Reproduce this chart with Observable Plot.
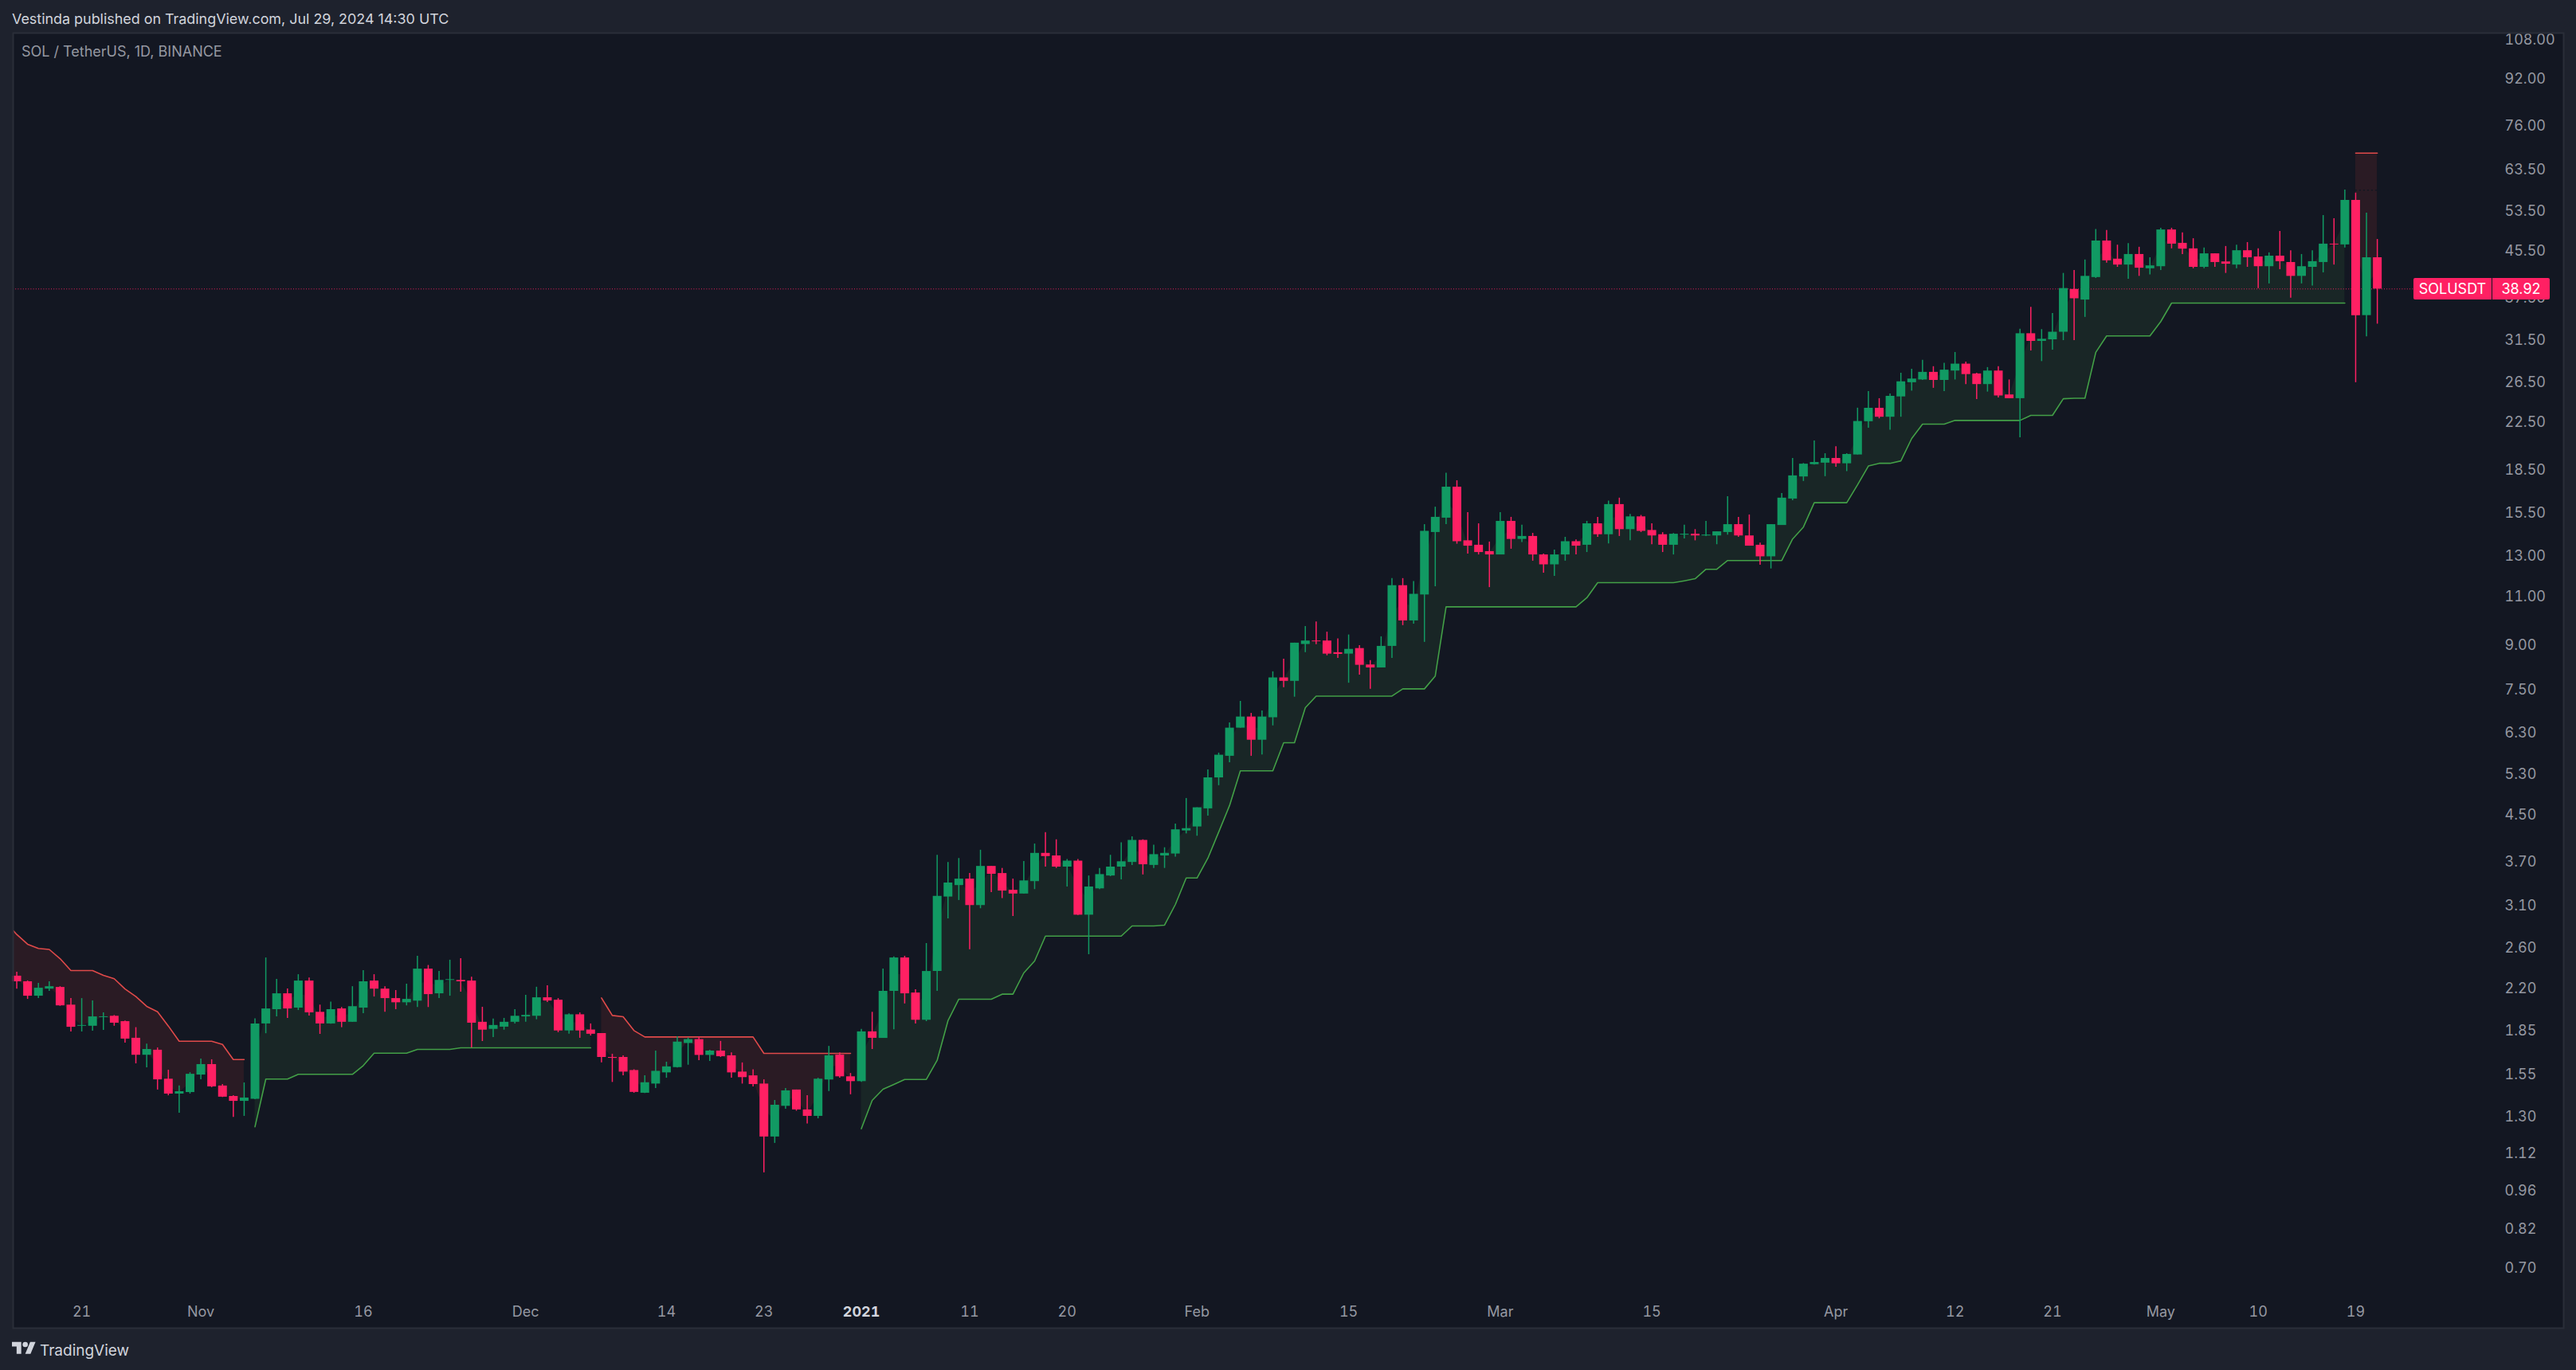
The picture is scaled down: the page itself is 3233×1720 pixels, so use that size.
<!DOCTYPE html>
<html>
<head>
<meta charset="utf-8">
<script src="https://cdn.jsdelivr.net/npm/d3@7"></script>
<script src="https://cdn.jsdelivr.net/npm/@observablehq/plot@0.6"></script>
<style>
html,body{margin:0;padding:0;background:#1e222d;}
#page{position:relative;width:3233px;height:1720px;overflow:hidden;font-family:Inter,sans-serif;}
#chart{position:absolute;left:0;top:0;}
#chart svg{display:block;}
.t{position:absolute;white-space:nowrap;line-height:1;}
.tag{position:absolute;background:#ff2063;color:#fff;font-size:18px;display:flex;align-items:center;justify-content:center;height:27px;top:349px;}
</style>
</head>
<body>
<div id="page">
  <div id="chart"></div>
  <div class="t" style="left:15px;top:15px;font-size:17.9px;color:#d1d4dc;">Vestinda published on TradingView.com, Jul 29, 2024 14:30 UTC</div>
  <div class="t" style="left:27px;top:56px;font-size:18px;color:#9598a1;">SOL / TetherUS, 1D, BINANCE</div>
  <div class="tag" style="left:3029px;width:98px;border-radius:2px 0 0 2px;">SOLUSDT</div>
  <div class="tag" style="left:3128px;width:72px;border-radius:0 2px 2px 0;">38.92</div>
  <svg style="position:absolute;left:15px;top:1681px;" width="30" height="24" viewBox="0 0 36 28"><path fill="#d1d4dc" d="M14 22H7V11H0V4h14v18zM28 22h-8l7.5-18h8L28 22z"/><circle fill="#d1d4dc" cx="20" cy="8" r="4"/></svg>
  <div class="t" style="left:50px;top:1686px;font-size:19px;color:#d1d4dc;">TradingView</div>
</div>
<script>
const opens=[2.32,2.267,2.137,2.20,2.215,2.06,1.889,1.889,1.957,1.968,
1.925,1.798,1.677,1.712,1.52,1.43,1.439,1.546,1.614,1.478,
1.416,1.388,1.40,1.907,2.022,2.158,2.035,2.274,2.00,1.907,
2.028,1.92,2.035,2.274,2.20,2.116,2.08,2.094,2.388,2.158,
2.28,2.28,2.274,1.92,1.865,1.882,1.92,1.963,1.968,2.123,
2.102,1.853,1.98,1.86,1.833,1.662,1.662,1.575,1.435,1.49,
1.56,1.594,1.76,1.788,1.676,1.706,1.673,1.565,1.541,1.49,
1.199,1.36,1.454,1.34,1.305,1.515,1.678,1.535,1.505,1.846,
1.797,2.18,2.50,2.165,1.936,2.365,3.21,3.365,3.455,3.10,
3.64,3.535,3.30,3.25,3.42,3.84,3.80,3.63,3.72,2.98,
3.32,3.50,3.63,3.70,4.05,3.655,3.80,3.83,4.21,4.28,
4.61,5.235,5.72,6.42,6.72,6.11,6.70,7.89,7.78,9.05,
9.18,9.18,8.75,8.70,8.90,8.32,8.22,8.98,11.52,9.97,
11.09,14.33,15.2,17.26,13.85,13.6,13.25,13.07,15.0,13.93,
14.1,13.07,12.55,13.07,13.8,13.6,14.85,14.2,16.07,14.5,
15.28,14.45,14.2,13.6,14.18,14.23,14.13,14.13,14.33,14.8,
14.13,13.6,12.97,14.75,16.44,18.0,18.93,19.05,19.42,19.0,
19.7,22.58,23.86,23.0,25.0,26.5,26.8,27.65,26.75,27.8,
28.6,27.47,26.3,27.8,25.2,24.82,32.4,31.4,31.6,32.6,
38.85,37.2,40.8,47.4,44.0,42.95,44.85,42.3,42.66,49.6,
46.95,45.9,42.55,44.97,43.5,42.95,45.55,44.4,42.66,44.55,
43.4,41.0,42.55,43.4,46.8,46.65,56.0,34.9,44.25];

const highs=[2.357,2.275,2.252,2.267,2.222,2.116,2.116,2.096,1.996,1.974,
1.93,1.878,1.756,1.728,1.577,1.478,1.561,1.651,1.646,1.487,
1.42,1.497,1.947,2.50,2.289,2.202,2.334,2.303,2.06,2.085,
2.04,2.222,2.373,2.334,2.222,2.187,2.245,2.517,2.424,2.365,
2.477,2.493,2.31,2.042,1.945,1.951,2.022,2.144,2.217,2.23,
2.116,1.988,1.995,1.907,1.833,1.684,1.673,1.58,1.541,1.706,
1.63,1.81,1.80,1.81,1.712,1.775,1.694,1.625,1.58,1.516,
1.393,1.463,1.454,1.42,1.526,1.739,1.694,1.556,1.865,2.0,
2.389,2.51,2.517,2.194,2.652,3.81,3.70,3.76,3.535,3.89,
3.64,3.61,3.455,3.713,3.99,4.18,4.06,3.745,3.745,3.50,
3.61,3.81,4.01,4.11,4.06,3.97,3.93,4.33,4.81,4.63,
5.41,5.795,6.56,7.165,6.82,6.89,8.09,8.52,9.10,9.74,
9.93,9.52,9.26,9.41,9.01,8.47,9.34,11.86,11.86,11.72,
14.80,15.9,18.28,17.72,15.55,14.85,13.78,15.55,15.25,14.77,
14.28,13.12,13.33,14.05,13.9,15.0,15.25,16.3,16.5,15.43,
15.37,14.85,14.32,14.27,14.77,14.5,15.0,14.37,16.6,15.25,
15.4,13.72,14.8,16.82,19.42,19.02,20.86,19.8,20.38,19.8,
23.87,25.55,24.82,25.3,27.55,28.0,29.05,28.3,28.7,30.0,
28.85,27.55,28.2,28.3,26.8,33.0,36.1,32.95,35.2,41.5,
42.0,43.85,49.7,49.5,46.6,46.9,46.2,44.25,49.95,49.95,
49.0,47.85,46.05,44.97,46.35,46.6,47.1,45.9,45.15,49.3,
45.55,44.85,45.55,52.62,51.95,58.45,57.7,53.15,47.7];

const lows=[2.20,2.109,2.116,2.18,2.05,1.845,1.845,1.851,1.857,1.889,
1.763,1.619,1.593,1.454,1.42,1.322,1.43,1.517,1.468,1.41,
1.30,1.305,1.397,1.832,1.963,1.95,2.015,1.97,1.827,1.905,
1.878,1.92,1.99,2.13,2.00,2.022,2.054,2.04,2.04,2.116,
2.137,2.172,1.728,1.774,1.803,1.859,1.907,1.92,1.94,2.082,
1.84,1.828,1.798,1.815,1.625,1.50,1.541,1.435,1.433,1.463,
1.526,1.592,1.61,1.64,1.635,1.662,1.526,1.49,1.473,1.035,
1.168,1.344,1.333,1.265,1.292,1.445,1.526,1.426,1.50,1.717,
1.797,1.862,2.07,1.907,1.925,2.18,2.936,3.165,2.585,3.06,
3.27,3.19,2.964,3.25,3.31,3.63,3.61,3.345,2.975,2.534,
3.31,3.49,3.445,3.655,3.515,3.61,3.61,3.78,4.16,4.12,
4.475,5.07,5.57,6.42,5.72,5.75,6.48,7.58,7.29,8.755,
9.04,8.64,8.55,7.72,7.98,7.53,8.22,8.55,9.78,9.84,
9.13,11.47,14.8,13.66,13.12,13.07,11.43,13.07,13.38,13.75,
12.74,12.13,11.97,12.74,13.07,13.2,14.05,13.68,14.1,13.85,
14.33,13.63,13.2,13.07,13.96,13.85,14.1,13.63,14.18,14.05,
13.55,12.53,12.34,14.75,16.33,17.67,18.9,18.02,18.73,18.4,
19.7,21.98,22.85,21.8,23.0,25.6,26.75,25.9,25.55,26.8,
26.3,24.74,25.5,24.9,24.82,21.14,30.2,28.9,30.3,31.5,
31.5,34.65,40.65,43.3,42.55,40.5,41.0,41.25,42.0,45.9,
44.85,42.3,42.3,42.55,41.5,42.3,42.55,39.0,39.75,42.15,
37.5,39.75,39.4,41.6,42.95,46.05,26.5,32.0,33.7];

const closes=[2.267,2.137,2.208,2.222,2.054,1.881,1.895,1.963,1.963,1.913,
1.792,1.677,1.717,1.516,1.43,1.444,1.551,1.614,1.473,1.412,
1.388,1.407,1.907,2.028,2.158,2.028,2.274,1.996,1.907,2.022,
1.92,2.047,2.267,2.20,2.116,2.08,2.109,2.388,2.151,2.28,
2.287,2.267,1.913,1.859,1.895,1.92,1.968,1.975,2.123,2.095,
1.853,1.98,1.853,1.828,1.662,1.656,1.565,1.44,1.498,1.57,
1.599,1.77,1.788,1.676,1.706,1.667,1.56,1.53,1.487,1.199,
1.366,1.449,1.34,1.305,1.52,1.673,1.535,1.505,1.846,1.798,
2.18,2.50,2.158,1.936,2.365,3.22,3.40,3.455,3.10,3.64,
3.525,3.29,3.25,3.43,3.84,3.79,3.63,3.72,2.98,3.345,
3.52,3.63,3.71,4.05,3.665,3.82,3.84,4.23,4.25,4.63,
5.235,5.745,6.42,6.72,6.11,6.72,7.89,7.78,9.10,9.18,
9.15,8.70,8.69,8.87,8.31,8.22,8.98,11.52,9.97,11.12,
14.4,15.25,17.26,13.8,13.55,13.2,13.07,15.0,13.93,14.1,
13.07,12.55,13.07,13.8,13.55,14.85,14.2,16.07,14.5,15.28,
14.4,14.13,13.6,14.23,14.23,14.13,14.18,14.37,14.8,14.13,
13.55,12.97,14.8,16.5,18.08,18.97,19.1,19.42,19.0,19.74,
22.6,23.86,23.0,25.06,26.6,26.9,27.65,26.75,27.9,28.6,
27.4,26.3,27.8,25.1,24.82,32.4,31.4,31.67,32.6,39.0,
37.4,41.0,47.4,43.7,42.95,44.85,42.4,42.8,49.6,46.8,
45.85,42.55,44.97,43.4,43.1,45.55,44.25,42.66,44.55,43.55,
41.0,42.66,43.55,46.8,46.65,56.0,34.9,44.25,38.92];

// Trailing stop line, one run per trend (start = day number counted from the first candle)
const red1=[2.89,2.752,2.644,2.598,2.588,2.492,2.373,2.373,2.373,2.327,2.295,2.201,2.133,2.049,2.004,1.89,1.776,1.776,1.776,1.776,1.753,1.647,1.647];
const green1=[1.25,1.52,1.52,1.52,1.55,1.55,1.55,1.55,1.55,1.55,1.607,1.691,1.691,1.691,1.691,1.717,1.717,1.717,1.717,1.728,1.728,1.728,1.728,1.728,1.728,1.728,1.728,1.728,1.728,1.728,1.728,1.728];
const red2=[2.121,1.974,1.963,1.855,1.807,1.807,1.807,1.807,1.807,1.807,1.807,1.807,1.807,1.807,1.807,1.689,1.689,1.689,1.689,1.689,1.689,1.689,1.689,1.689];
const green2=[1.24,1.393,1.458,1.487,1.518,1.518,1.518,1.642,1.932,2.11,2.11,2.11,2.11,2.154,2.154,2.35,2.468,2.734,2.734,2.734,2.734,2.734,2.734,2.734,2.734,2.85,2.85,2.85,2.86,3.113,3.47,3.47,3.763,4.19,4.67,5.387,5.387,5.387,5.387,6.045,6.045,6.98,7.32,7.32,7.32,7.32,7.32,7.32,7.32,7.32,7.54,7.54,7.54,7.95,10.56,10.56,10.56,10.56,10.56,10.56,10.56,10.56,10.56,10.56,10.56,10.56,10.56,10.96,11.66,11.66,11.66,11.66,11.66,11.66,11.66,11.66,11.75,11.85,12.32,12.32,12.77,12.77,12.77,12.77,12.77,12.77,13.95,14.65,16.19,16.19,16.19,16.19,17.42,18.82,19.03,19.03,19.22,21.07,22.35,22.35,22.35,22.69,22.69,22.69,22.69,22.69,22.69,22.69,23.17,23.17,23.17,24.8,24.85,24.85,30.0,32.1,32.1,32.1,32.1,32.1,34.04,36.73,36.73,36.73,36.73,36.73,36.73,36.73,36.73,36.73,36.73,36.73,36.73,36.73,36.73,36.73,36.73,36.73];
const red3=[67.98,67.98,67.98];

const yTicks=[108,92,76,63.5,53.5,45.5,37.5,31.5,26.5,22.5,18.5,15.5,13,11,9,7.5,6.3,5.3,4.5,3.7,3.1,2.6,2.2,1.85,1.55,1.3,1.12,0.96,0.82,0.7];
const xLabels=[["2020-10-21","21"],["2020-11-01","Nov"],["2020-11-16","16"],["2020-12-01","Dec"],["2020-12-14","14"],["2020-12-23","23"],["2021-01-11","11"],["2021-01-20","20"],["2021-02-01","Feb"],["2021-02-15","15"],["2021-03-01","Mar"],["2021-03-15","15"],["2021-04-01","Apr"],["2021-04-12","12"],["2021-04-21","21"],["2021-05-01","May"],["2021-05-10","10"],["2021-05-19","19"]];
const yearLabel=[["2021-01-01","2021"]];
const lastPrice=38.92;
const stopMark=58.4;

const GREEN="#119a63",PINK="#ff2063",LINEG="#43a047",LINER="#e04a4a",TICK="#9598a1";
const day0=Date.UTC(2020,9,15);
const dayAt=i=>new Date(day0+i*864e5);
const candles=opens.map((o,i)=>({date:dayAt(i),open:o,high:highs[i],low:lows[i],close:closes[i]}));
const ups=candles.filter(d=>d.close>=d.open), downs=candles.filter(d=>d.close<d.open);
const midOf=i=>{const c=candles[Math.max(0,i)];return (c.open+c.close)/2;};
const segs=[["down",-1,red1],["up",22,green1],["down",54,red2],["up",78,green2],["down",216,red3]];
const rows=segs.flatMap(([side,start,vals],k)=>vals.map((v,j)=>({seg:k,side,date:dayAt(start+j),value:v,mid:midOf(start+j)})));
const rowsUp=rows.filter(d=>d.side==="up"), rowsDown=rows.filter(d=>d.side==="down");
const parse=s=>new Date(s+"T00:00:00Z");
const labelMap=new Map(xLabels.map(([d,t])=>[+parse(d),t]));

const chart=Plot.plot({
  width:3233,height:1720,
  marginLeft:16,marginRight:16,marginTop:41,marginBottom:53,
  style:{background:"transparent",fontFamily:"Inter, sans-serif",fontSize:"18px"},
  x:{type:"utc",domain:[new Date(Date.UTC(2020,9,14,16)),new Date(Date.UTC(2021,5,7,5))],axis:null},
  y:{type:"log",domain:[0.5469,111.25],axis:null},
  marks:[
    Plot.frame({fill:"#131722"}),
    Plot.areaY(rowsDown,{x:"date",y1:"value",y2:"mid",z:"seg",fill:"#f44336",fillOpacity:0.1,clip:true}),
    Plot.areaY(rowsUp,{x:"date",y1:"value",y2:"mid",z:"seg",fill:"#4caf50",fillOpacity:0.1,clip:true}),
    Plot.ruleY([stopMark],{x1:dayAt(216),x2:dayAt(218),stroke:"#131722",strokeWidth:1.5,strokeDasharray:"2 3"}),
    Plot.line(rowsDown,{x:"date",y:"value",z:"seg",stroke:LINER,strokeWidth:1.6,clip:true}),
    Plot.line(rowsUp,{x:"date",y:"value",z:"seg",stroke:LINEG,strokeWidth:1.6,clip:true}),
    Plot.ruleY([lastPrice],{x1:new Date(Date.UTC(2020,9,14,16)),x2:new Date(Date.UTC(2021,4,24,10)),stroke:PINK,strokeWidth:1,strokeDasharray:"1 2.2",strokeOpacity:0.9}),
    Plot.ruleX(ups,{x:"date",y1:"low",y2:"high",stroke:GREEN,strokeWidth:1.5}),
    Plot.ruleX(downs,{x:"date",y1:"low",y2:"high",stroke:PINK,strokeWidth:1.5}),
    Plot.ruleX(ups,{x:"date",y1:"open",y2:"close",stroke:GREEN,strokeWidth:11}),
    Plot.ruleX(downs,{x:"date",y1:"open",y2:"close",stroke:PINK,strokeWidth:11}),
    Plot.axisY(yTicks,{anchor:"right",tickSize:0,tickPadding:-74,textAnchor:"start",tickFormat:d3.format(".2f"),fill:TICK,fontSize:18}),
    Plot.axisX(xLabels.map(d=>parse(d[0])),{anchor:"bottom",tickSize:0,tickPadding:-20,lineAnchor:"middle",tickFormat:d=>labelMap.get(+d),fill:TICK,fontSize:18}),
    Plot.axisX(yearLabel.map(d=>parse(d[0])),{anchor:"bottom",tickSize:0,tickPadding:-20,lineAnchor:"middle",tickFormat:()=>yearLabel[0][1],fill:"#d1d4dc",fontSize:18,fontWeight:700}),
    Plot.frame({stroke:"#2a2e39",strokeWidth:2})
  ]
});
document.getElementById("chart").append(chart);
</script>
</body>
</html>
